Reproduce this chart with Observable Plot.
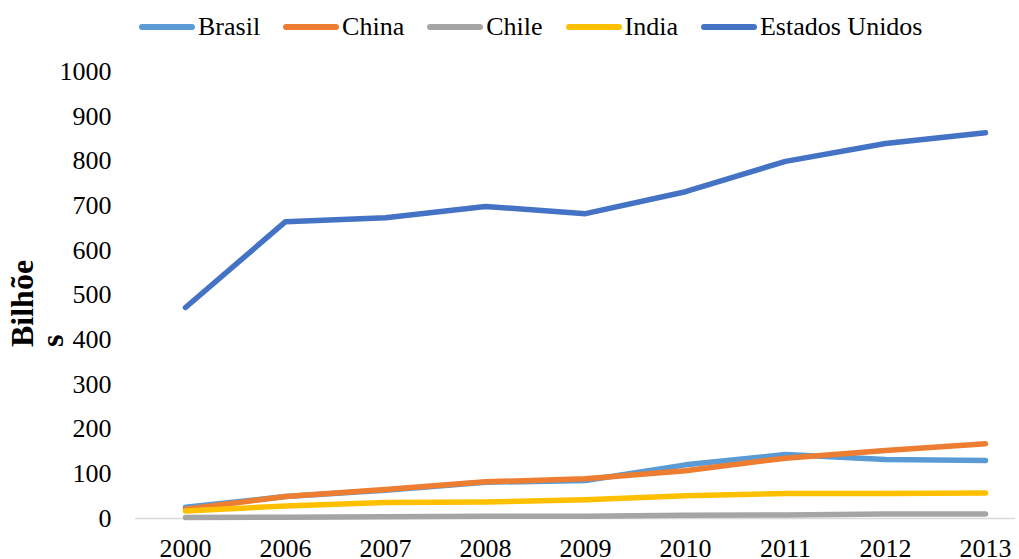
<!DOCTYPE html>
<html>
<head>
<meta charset="utf-8">
<script src="https://cdn.jsdelivr.net/npm/d3@7"></script>
<script src="https://cdn.jsdelivr.net/npm/@observablehq/plot@0.6"></script>
<style>
  html, body { margin: 0; padding: 0; background: #fff; }
  body { width: 1019px; height: 559px; overflow: hidden; font-family: "Liberation Serif", Tinos, "DejaVu Serif", "Noto Serif", serif; }
  #legend { height: 50px; display: flex; align-items: center; padding-left: 139px; box-sizing: border-box; padding-top: 4px; }
  .item { display: flex; align-items: center; margin-right: 23px; font-size: 26px; color: #000; }
  .sw { width: 56px; height: 6px; border-radius: 3px; margin-right: 3px; }
  svg { display: block; }
</style>
</head>
<body>
<div id="legend"></div>
<div id="chart"></div>
<script>
const years = ["2000", "2006", "2007", "2008", "2009", "2010", "2011", "2012", "2013"];
const seriesNames = ["Brasil", "China", "Chile", "India", "Estados Unidos"];
const seriesColors = ["#5B9BD5", "#ED7D31", "#A5A5A5", "#FFC000", "#4472C4"];
const brasil = [25, 49, 63, 81, 85, 120, 143, 132, 130];
const china = [21, 49, 65, 82, 89, 107, 135, 152, 167];
const chile = [2, 3, 4, 5, 5, 7, 8, 10, 10];
const india = [17, 28, 36, 37, 42, 51, 56, 56, 57];
const estadosUnidos = [472, 664, 673, 698, 682, 731, 799, 839, 863];
const yTicks = [0, 100, 200, 300, 400, 500, 600, 700, 800, 900, 1000];
const yTitle = ["Bilhõe", "s"];

const FONT = '"Liberation Serif", Tinos, "DejaVu Serif", "Noto Serif", serif';

const allValues = [brasil, china, chile, india, estadosUnidos];
const data = [];
seriesNames.forEach((name, i) => {
  years.forEach((yr, j) => data.push({series: name, year: yr, value: allValues[i][j]}));
});

// legend
const legend = document.getElementById("legend");
seriesNames.forEach((name, i) => {
  const it = document.createElement("div");
  it.className = "item";
  const sw = document.createElement("div");
  sw.className = "sw";
  sw.style.background = seriesColors[i];
  const tx = document.createElement("span");
  tx.textContent = name;
  it.appendChild(sw); it.appendChild(tx);
  legend.appendChild(it);
});

const chart = Plot.plot({
  width: 1019,
  height: 509,
  marginTop: 21,
  marginBottom: 41,
  marginLeft: 135,
  marginRight: 4,
  style: {fontFamily: FONT, fontSize: "26px", color: "#000", background: "#fff"},
  x: {type: "point", domain: years, padding: 0, insetLeft: 49, insetRight: 30, label: null},
  y: {domain: [0, 1000], label: null},
  color: {domain: seriesNames, range: seriesColors},
  marks: [
    Plot.ruleY([0], {stroke: "#D9D9D9", strokeWidth: 1.5}),
    Plot.axisY({ticks: yTicks, tickFormat: d => String(d), tickSize: 0, tickPadding: 24, label: null, fontSize: 26, fontFamily: FONT}),
    Plot.axisX({tickSize: 0, tickPadding: 20, label: null, fontSize: 26, fontFamily: FONT}),
    Plot.line(data, {x: "year", y: "value", z: "series", stroke: "series", strokeWidth: 5.5, strokeLinecap: "round", strokeLinejoin: "round"})
  ]
});
document.getElementById("chart").appendChild(chart);

const svg = d3.select(chart);
yTitle.forEach((t, i) => {
  svg.append("text")
    .attr("transform", `translate(${33 + i * 30},297) rotate(-90)`)
    .attr("text-anchor", "start")
    .attr("font-weight", "bold")
    .attr("font-size", 32)
    .attr("font-family", FONT)
    .attr("fill", "#000")
    .text(t);
});
</script>
</body>
</html>
